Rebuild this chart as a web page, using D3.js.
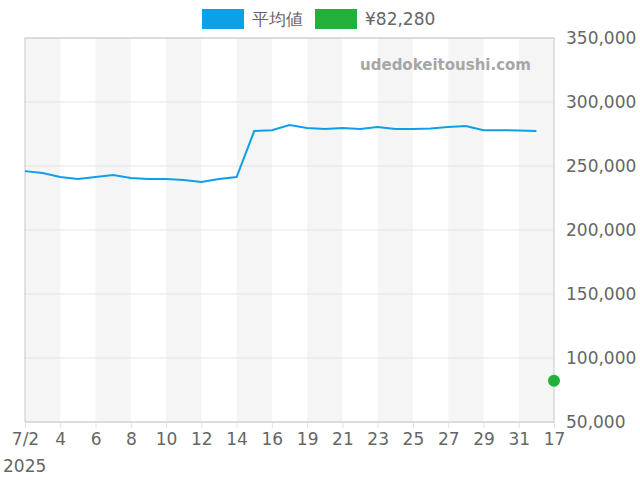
<!DOCTYPE html>
<html><head><meta charset="utf-8"><script src="https://cdn.jsdelivr.net/npm/d3@7"></script>
<style>body{margin:0;background:#fff}text{font-family:"DejaVu Sans",sans-serif}</style></head>
<body><svg id="c" width="640" height="480"></svg>
<script>
const tickLabels=["7/2","4","6","8","10","12","14","16","19","21","23","25","27","29","31","17"];
const avgValues=[246000,244500,241400,239800,241400,243000,240600,239800,239800,239000,237500,239800,241400,277300,278000,282000,279700,278900,279700,278900,280500,278900,278900,279300,280500,281300,278000,278000,277700,277300];
const pointValue=82280;
const nCat=31;
const yTicks=[50000,100000,150000,200000,250000,300000,350000];
const svg=d3.select("#c");
const L=25,R=554,T=38,B=422;
const x=d3.scaleLinear().domain([0,nCat-1]).range([L,R]);
const y=d3.scaleLinear().domain([50000,350000]).range([B,T]);
for(let i=0;i<nCat-1;i+=4){svg.append("rect").attr("x",x(i)).attr("y",T).attr("width",x(i+2)-x(i)).attr("height",B-T).attr("fill","#f5f5f5");}
yTicks.forEach(v=>{svg.append("line").attr("x1",L).attr("x2",R).attr("y1",y(v)).attr("y2",y(v)).attr("stroke","#e4e4e4");});
svg.append("rect").attr("x",L).attr("y",T).attr("width",R-L).attr("height",B-T).attr("fill","none").attr("stroke","#c8c8c8");
svg.append("text").attr("x",531).attr("y",70).attr("text-anchor","end").attr("font-size",15).attr("font-weight","bold").attr("fill","#a6a6a6").text("udedokeitoushi.com");
const ax=svg.append("g").attr("transform",`translate(0,${B})`).call(d3.axisBottom(x).tickValues(d3.range(0,nCat,2)).tickFormat((d,i)=>tickLabels[i]).tickSize(6).tickSizeOuter(0));
ax.select(".domain").remove();
ax.selectAll("line").attr("stroke","#e2e2e2");
ax.selectAll("text").attr("font-size",17).attr("fill","#666").attr("dy","0.85em");
svg.append("text").attr("x",3).attr("y",472).attr("font-size",17).attr("fill","#666").text("2025");
const ay=svg.append("g").attr("transform",`translate(${R},0)`).call(d3.axisRight(y).tickValues(yTicks).tickFormat(d3.format(",")).tickSize(0));
ay.select(".domain").remove();
ay.selectAll("text").attr("font-size",17).attr("fill","#666").attr("x",12);
svg.append("path").datum(avgValues).attr("d",d3.line().x((d,i)=>x(i)).y(d=>y(d))).attr("fill","none").attr("stroke","#0ea0e6").attr("stroke-width",2);
svg.append("circle").attr("cx",x(nCat-1)).attr("cy",y(pointValue)).attr("r",6).attr("fill","#22b03a");
const lg=svg.append("g");
lg.append("rect").attr("x",202).attr("y",9).attr("width",42).attr("height",20).attr("fill","#0ea0e6");
lg.append("text").attr("x",252).attr("y",25).attr("font-size",17).attr("fill","#666").text("平均値");
lg.append("rect").attr("x",315).attr("y",9).attr("width",42).attr("height",20).attr("fill","#22b03a");
lg.append("text").attr("x",365).attr("y",25).attr("font-size",17).attr("fill","#666").text("¥82,280");
</script></body></html>
